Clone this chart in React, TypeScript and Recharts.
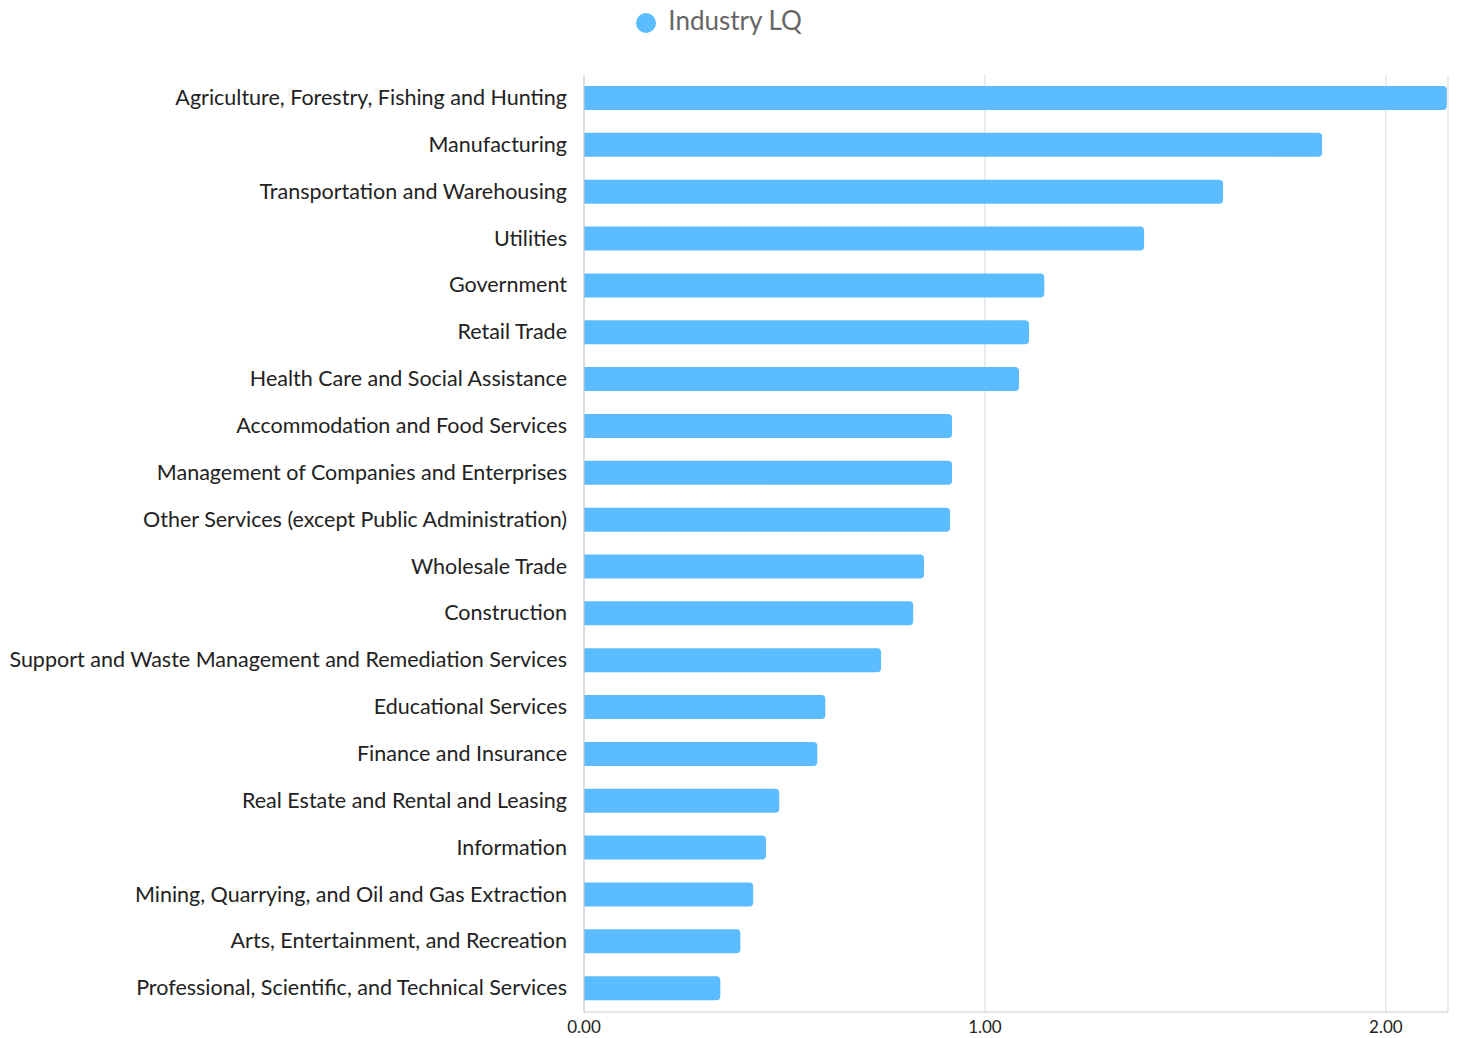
import { Bar, BarChart, CartesianGrid, Legend, XAxis, YAxis } from "recharts";

const industries = [
  "Agriculture, Forestry, Fishing and Hunting",
  "Manufacturing",
  "Transportation and Warehousing",
  "Utilities",
  "Government",
  "Retail Trade",
  "Health Care and Social Assistance",
  "Accommodation and Food Services",
  "Management of Companies and Enterprises",
  "Other Services (except Public Administration)",
  "Wholesale Trade",
  "Construction",
  "Support and Waste Management and Remediation Services",
  "Educational Services",
  "Finance and Insurance",
  "Real Estate and Rental and Leasing",
  "Information",
  "Mining, Quarrying, and Oil and Gas Extraction",
  "Arts, Entertainment, and Recreation",
  "Professional, Scientific, and Technical Services",
];

const lqValues = [
  2.152, 1.841, 1.594, 1.397, 1.148, 1.11, 1.085, 0.918, 0.918, 0.913, 0.848,
  0.821, 0.741, 0.602, 0.582, 0.487, 0.454, 0.422, 0.39, 0.34,
];

const xTicks = [0, 1, 2];

const data = industries.map((name, i) => ({ name, lq: lqValues[i] }));

export default function App() {
  return (
    <div style={{ position: "absolute", left: 0, top: 0, fontFamily: "Lato" }}>
      <BarChart
        width={1461}
        height={1038}
        data={data}
        layout="vertical"
        margin={{ top: 75, right: 13, bottom: 6, left: 0 }}
      >
        <CartesianGrid horizontal={false} stroke="#d9d9d9" />
        <XAxis
          type="number"
          domain={[0, 2.155]}
          ticks={xTicks}
          tickFormatter={(v: number) => v.toFixed(2)}
          tickSize={0}
          tickMargin={9}
          height={20}
          stroke="#cccccc"
          tick={{ fill: "#222222", fontSize: 17 }}
        />
        <YAxis
          type="category"
          dataKey="name"
          width={584}
          tickSize={0}
          tickMargin={17}
          interval={0}
          stroke="#cccccc"
          tick={{ fill: "#222222", fontSize: 21.5, dy: -1 }}
        />
        <Legend
          verticalAlign="top"
          align="center"
          iconType="circle"
          iconSize={20}
          wrapperStyle={{ top: 4, fontSize: 26, height: 0 }}
          formatter={(value: string) => (
            <span style={{ color: "#666666", paddingLeft: 8 }}>{value}</span>
          )}
        />
        <Bar
          dataKey="lq"
          name="Industry LQ"
          fill="#5bbcff"
          barSize={24}
          radius={[0, 4, 4, 0]}
          isAnimationActive={false}
        />
      </BarChart>
    </div>
  );
}
